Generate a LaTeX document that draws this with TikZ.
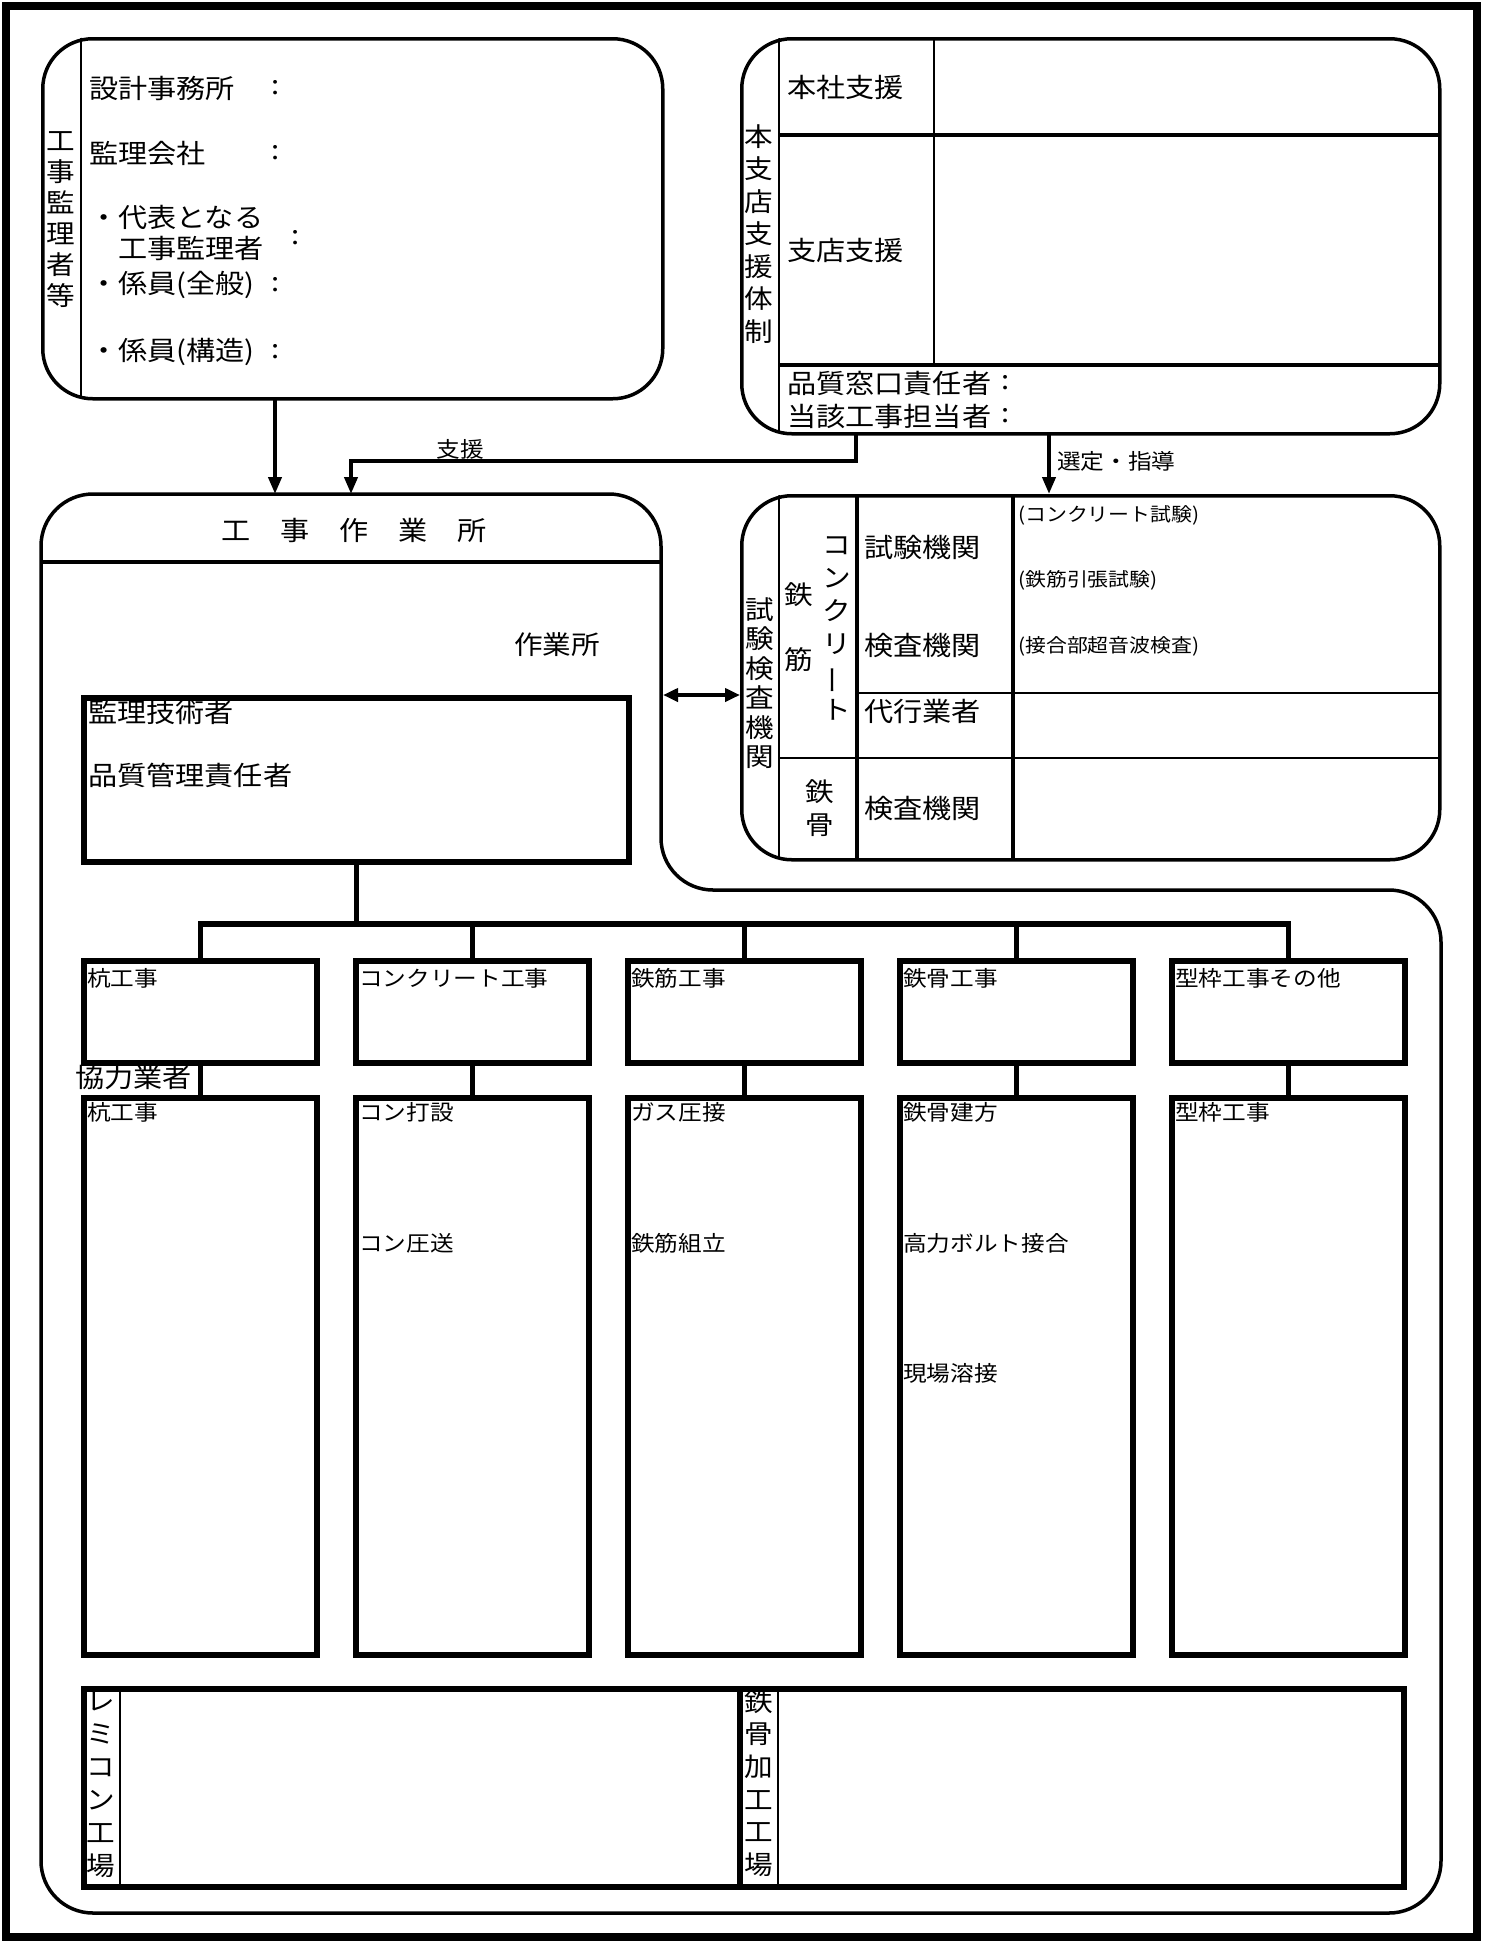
\documentclass[tikz,border=0pt]{standalone}
\usepackage{fontspec}
\setmainfont{Noto Sans CJK JP}[FakeStretch=1.1]
\usepackage{graphicx}
\usetikzlibrary{arrows.meta}
\tikzset{
  rbox/.style={draw, line width=3.5pt, rounded corners=50pt, inner sep=0pt, anchor=north west},
  hbox/.style={draw, line width=6pt, inner sep=0pt, anchor=north west},
  fineline/.style={line width=1.5pt},
  midline/.style={line width=3.5pt},
  conn/.style={line width=5.5pt},
  arr/.style={line width=4pt, -{Triangle[length=17pt,width=13pt]}},
  darr/.style={line width=4pt, {Triangle[length=15pt,width=13pt]}-{Triangle[length=15pt,width=13pt]}},
  lbl/.style={anchor=west, inner sep=0pt, font=\fontsize{26.5}{30}\selectfont},
  slbl/.style={anchor=west, inner sep=0pt, font=\fontsize{21.5}{25}\selectfont},
  tlbl/.style={anchor=west, inner sep=0pt, font=\fontsize{19}{22}\selectfont},
  vlbl/.style={align=center, inner sep=0pt, font=\fontsize{26}{#1}\selectfont},
}
\begin{document}
\begin{tikzpicture}[x=1pt,y=-1pt]
\useasboundingbox (0,0) rectangle (1484,1941);
% outer frame
\draw[line width=7.5pt] (6,6) rectangle (1477,1937);

% ---------- left top box ----------
\node[rbox, minimum width=620pt, minimum height=360pt] (lb) at (41,37) {};
\begin{scope}
  \clip[rounded corners=50pt] (41,37) rectangle (661,397);
  \draw[fineline] (81,30) -- (81,400);
\end{scope}
\node[vlbl=31] (v1) at (61,220) {工\\事\\監\\理\\者\\等};
\node[lbl] (l1) at (89,88) {設計事務所};
\node[lbl, anchor=center] (c1) at (276,88) {:};
\node[lbl] (l2) at (89,153) {監理会社};
\node[lbl, anchor=center] (c2) at (276,153) {:};
\node[lbl] (l3) at (89,217) {・代表となる};
\node[lbl] (l4) at (118,248) {工事監理者};
\node[lbl, anchor=center] (c3) at (296,238) {:};
\node[lbl] (l5) at (89,285) {・係員(全般)};
\node[lbl, anchor=center] (c4) at (276,285) {:};
\node[lbl] (l6) at (89,352) {・係員(構造)};
\node[lbl, anchor=center] (c5) at (276,352) {:};

% ---------- right top box ----------
\node[rbox, minimum width=698pt, minimum height=395pt] (rb) at (740,37) {};
\begin{scope}
  \clip[rounded corners=50pt] (740,37) rectangle (1438,432);
  \draw[fineline] (779,30) -- (779,440);
  \draw[fineline] (934,30) -- (934,365);
  \draw[midline] (779,135) -- (1445,135);
  \draw[midline] (779,365) -- (1445,365);
\end{scope}
\node[vlbl=32.5] (v2) at (759,234) {本\\支\\店\\支\\援\\体\\制};
\node[lbl] (r1) at (787,87) {本社支援};
\node[lbl] (r2) at (787,250) {支店支援};
\node[lbl] (r3) at (787,383) {品質窓口責任者};
\node[lbl, anchor=center] (c6) at (1006,383) {:};
\node[lbl] (r4) at (787,416) {当該工事担当者};
\node[lbl, anchor=center] (c7) at (1006,416) {:};

% ---------- work area outline ----------
\coordinate (wtl) at (41,494);
\draw[line width=3.5pt, rounded corners=52pt]
  (41,1200) -- (41,494) -- (661,494) -- (661,890) -- (1441,890) -- (1441,1913) -- (41,1913) -- cycle;
\draw[line width=3.5pt] (41,562) -- (661,562);
\node[inner sep=0pt, font=\fontsize{26.5}{30}\selectfont] (title) at (354,530)
  {工\hspace{30pt}事\hspace{30pt}作\hspace{30pt}業\hspace{30pt}所};
\node[lbl, anchor=east, font=\fontsize{26}{30}\selectfont] (sagyo) at (600,645) {作業所};

% ---------- test / inspection box ----------
\node[rbox, minimum width=698pt, minimum height=364pt] (tb) at (740,494) {};
\begin{scope}
  \clip[rounded corners=50pt] (740,494) rectangle (1438,858);
  \draw[fineline] (779,490) -- (779,862);
  \draw[midline] (857,490) -- (857,862);
  \draw[midline] (1013,490) -- (1013,862);
  \draw[fineline] (857,693) -- (1445,693);
  \draw[line width=2.8pt] (779,758) -- (1445,758);
\end{scope}
\node[vlbl=29.5] (v3) at (760,683) {試\\験\\検\\査\\機\\関};
\node[vlbl=65] (v4) at (799,627) {鉄\\筋};
\node[vlbl=33] (v5) at (837,628) {コ\\ン\\ク\\リ\\\rotatebox[origin=c]{90}{ー}\\ト};
\node[vlbl=33] (v6) at (820,808) {鉄\\骨};
\node[lbl] (e1) at (864,547) {試験機関};
\node[lbl] (e2) at (864,645) {検査機関};
\node[lbl] (e3) at (864,711) {代行業者};
\node[lbl] (e4) at (864,808) {検査機関};
\node[tlbl] (n1) at (1018,515) {(コンクリート試験)};
\node[tlbl] (n2) at (1018,580) {(鉄筋引張試験)};
\node[tlbl] (n3) at (1018,646) {(接合部超音波検査)};

% ---------- arrows between top boxes ----------
\coordinate (a1s) at (275,397);
\coordinate (a1e) at (275,494);
\draw[arr] (a1s) -- (a1e);
\coordinate (s1) at (856,432);
\coordinate (s2) at (351,494);
\draw[arr] (s1) |- (351,461) -- (s2);
\node[slbl, anchor=center] (shien) at (460,449) {支援};
\coordinate (g1) at (1049,432);
\coordinate (g2) at (1049,494);
\draw[arr] (g1) -- (g2);
\node[slbl] (sentei) at (1057,461) {選定・指導};
\coordinate (d1) at (663,695);
\coordinate (d2) at (740,695);
\draw[darr] (d1) -- (d2);

% ---------- supervising engineer box ----------
\node[hbox, minimum width=545pt, minimum height=164pt] (kb) at (81,695) {};
\node[lbl] (k1) at (88,712) {監理技術者};
\node[lbl] (k2) at (88,775) {品質管理責任者};

% ---------- trade boxes ----------
\node[hbox, minimum width=233pt, minimum height=102pt] (t1) at (81,958) {};
\node[hbox, minimum width=233pt, minimum height=102pt] (t2) at (353,958) {};
\node[hbox, minimum width=233pt, minimum height=102pt] (t3) at (625,958) {};
\node[hbox, minimum width=233pt, minimum height=102pt] (t4) at (897,958) {};
\node[hbox, minimum width=233pt, minimum height=102pt] (t5) at (1169,958) {};
\node[hbox, minimum width=233pt, minimum height=557pt] (b1) at (81,1095) {};
\node[hbox, minimum width=233pt, minimum height=557pt] (b2) at (353,1095) {};
\node[hbox, minimum width=233pt, minimum height=557pt] (b3) at (625,1095) {};
\node[hbox, minimum width=233pt, minimum height=557pt] (b4) at (897,1095) {};
\node[hbox, minimum width=233pt, minimum height=557pt] (b5) at (1169,1095) {};

\coordinate (bus) at (0,924);
\draw[conn] (kb.south) -- (kb.south |- bus);
\draw[conn] (t1.north) |- (t5.north |- bus) -- (t5.north);
\draw[conn] (t2.north) -- (t2.north |- bus);
\draw[conn] (t3.north) -- (t3.north |- bus);
\draw[conn] (t4.north) -- (t4.north |- bus);
\draw[conn] (t1.south) -- (b1.north);
\draw[conn] (t2.south) -- (b2.north);
\draw[conn] (t3.south) -- (b3.north);
\draw[conn] (t4.south) -- (b4.north);
\draw[conn] (t5.south) -- (b5.north);

\node[slbl] (tl1) at (87,978) {杭工事};
\node[slbl] (tl2) at (359,978) {コンクリート工事};
\node[slbl] (tl3) at (631,978) {鉄筋工事};
\node[slbl] (tl4) at (903,978) {鉄骨工事};
\node[slbl] (tl5) at (1175,978) {型枠工事その他};
\node[lbl] (kyoryoku) at (75,1077) {協力業者};

\node[slbl] (bl1) at (87,1112) {杭工事};
\node[slbl] (bl2) at (359,1112) {コン打設};
\node[slbl] (bl2b) at (359,1243) {コン圧送};
\node[slbl] (bl3) at (631,1112) {ガス圧接};
\node[slbl] (bl3b) at (631,1243) {鉄筋組立};
\node[slbl] (bl4) at (903,1112) {鉄骨建方};
\node[slbl] (bl4b) at (903,1243) {高力ボルト接合};
\node[slbl] (bl4c) at (903,1373) {現場溶接};
\node[slbl] (bl5) at (1175,1112) {型枠工事};

% ---------- factories ----------
\node[hbox, minimum width=1320pt, minimum height=198pt] (bb) at (81,1686) {};
\draw[fineline] (120,1686) -- (120,1884);
\draw[line width=6pt] (740,1686) -- (740,1884);
\draw[fineline] (778,1686) -- (778,1884);
\node[vlbl=33] (v7) at (101,1784) {レ\\ミ\\コ\\ン\\工\\場};
\node[vlbl=32.6] (v8) at (759,1783) {鉄\\骨\\加\\工\\工\\場};
\end{tikzpicture}
\end{document}
